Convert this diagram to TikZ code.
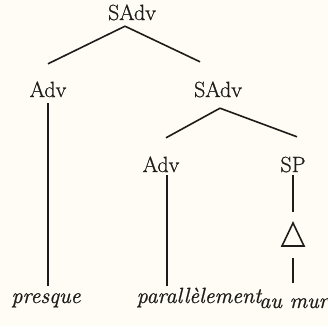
\documentclass[tikz,border=0pt]{standalone}
\usepackage{fontspec}
\usepackage{xcolor}
\usetikzlibrary{math}
\newfontfamily\treefont{Latin Modern Roman}[FakeBold=0.8]
\definecolor{paper}{RGB}{254,252,244}
\definecolor{ink}{RGB}{30,28,26}
\tikzset{
  cat/.style={font=\treefont\fontsize{22}{26}\selectfont, inner xsep=0pt, inner ysep=6pt,
    text height=15pt, text depth=0pt, anchor=base, text=ink},
  word/.style={cat, font=\treefont\fontsize{22}{26}\selectfont\itshape, inner ysep=2pt},
  branch/.style={draw=ink, line width=1.6pt},
}

\begin{document}
\begin{tikzpicture}[x=1pt, y=1pt]
\tikzmath{
\w=11;
\h=23;
}

\fill[paper] (0,0) rectangle (328,-326);
\useasboundingbox (0,0) rectangle (328,-326);

\node[cat] (root) at (132,-20) {SAdv};
\node[cat] (adv1) at (48,-97) {Adv};
\node[cat] (sadv) at (218,-97) {SAdv};
\node[cat] (adv2) at (161,-172) {Adv};
\node[cat] (sp) at (293,-172) {SP};
\coordinate (tri) at (293,-223);
\node[word] (presque) at (46,-303) {presque};
\node[word] (parall) at (199,-303) {parallèlement};
\node[word, anchor=base east] (aumur) at (328,-308) {au mur};

\draw[branch] ([xshift=-7pt]root.south) -- ([yshift=12pt]adv1.north);
\draw[branch] ([xshift=-7pt]root.south) -- ([xshift=-18pt,yshift=14pt]sadv.north);
\draw[branch] (adv1.south) -- (adv1.south |- presque.north);
\draw[branch] ([xshift=2pt,yshift=-5pt]sadv.south) -- ([xshift=5pt,yshift=13pt]adv2.north);
\draw[branch] ([xshift=2pt,yshift=-5pt]sadv.south) -- ([xshift=4pt,yshift=14pt]sp.north);
\draw[branch] ([xshift=6pt,yshift=3pt]adv2.south) -- ([xshift=6pt]adv2.south |- parall.north);
\draw[branch] ([yshift=3pt]sp.south) -- ([yshift=11pt]tri);
\draw[branch] (tri) -- ++(-\w,-\h) -- ++(2*\w,0) -- cycle;
\draw[branch] ([yshift=-35pt]tri) -- ([yshift=8pt]tri |- aumur.north);
\end{tikzpicture}
\end{document}
